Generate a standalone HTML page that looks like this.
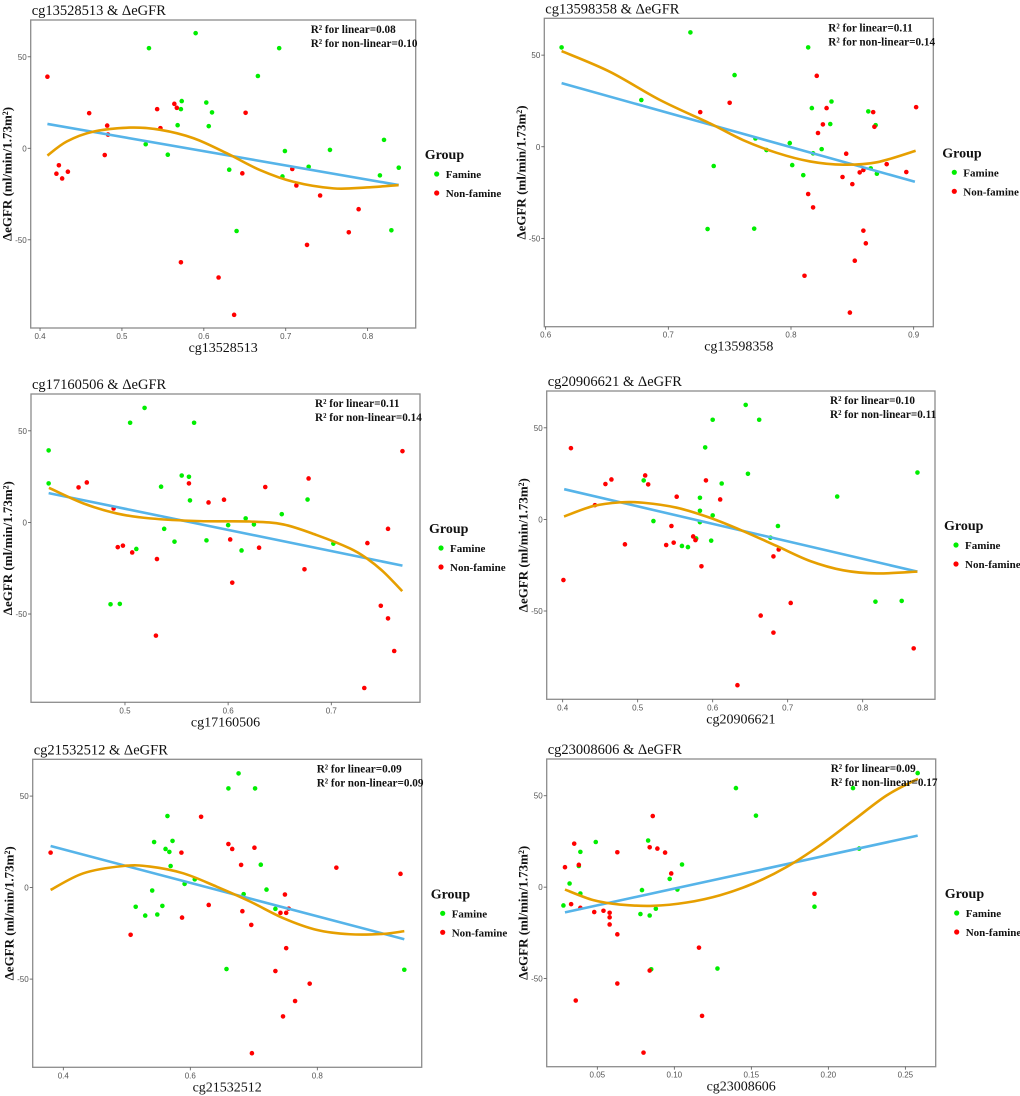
<!DOCTYPE html>
<html><head><meta charset="utf-8"><style>
html,body{margin:0;padding:0;background:#fff;}
svg{display:block;}
</style></head><body>
<svg id="fig" width="1020" height="1096" viewBox="0 0 1020 1096" xmlns="http://www.w3.org/2000/svg"></svg>
<script>
// ---------- DATA ----------
const yTicks=[50,0,-50];
const legendLabels=["Famine","Non-famine"];
// Panel 1: cg13528513
const p1FamX=[.590,.533,.692,.666,.573,.603,.572,.610,.568,.606,.529,.556,.699,.754,.820,.838,.815,.728,.696,.631,.640,.829];
const p1FamY=[62.9,54.7,54.7,39.5,25.8,25.0,21.4,19.6,12.6,12.1,2.2,-3.5,-1.5,-0.9,4.6,-10.6,-14.8,-10.1,-15.4,-11.7,-45.2,-44.8];
const p1NonX=[.409,.460,.482,.483,.479,.423,.420,.434,.427,.564,.567,.543,.547,.651,.647,.708,.713,.742,.789,.777,.726,.572,.618,.637];
const p1NonY=[39.1,19.2,12.4,7.5,-3.7,-9.3,-13.9,-12.8,-16.5,24.3,22.1,21.4,11.0,19.4,-13.7,-11.3,-20.3,-25.8,-33.3,-45.9,-52.8,-62.3,-70.6,-91.0];
const p1LinX=[.409,.838], p1LinY=[13.3,-20.1];
const p1CurX=[.409,.4326,.4651,.5099,.5468,.5875,.6279,.6686,.7093,.7581,.7988,.8378];
const p1CurY=[-4.0,3.7,9.1,11.3,10.1,5.5,-2.7,-11.9,-18.3,-21.9,-21.4,-20.1];
const p1XTicks=[0.4,0.5,0.6,0.7,0.8];
// Panel 2: cg13598358
const p2FamX=[.613,.718,.814,.754,.678,.817,.833,.832,.863,.869,.771,.780,.799,.825,.818,.801,.810,.865,.870,.737,.732,.770];
const p2FamY=[54.2,62.4,54.2,39.1,25.5,21.1,24.7,12.4,19.3,11.8,4.5,-1.8,2.0,-1.3,-3.6,-10.0,-15.5,-11.8,-14.7,-10.5,-44.9,-44.7];
const p2NonX=[.726,.750,.821,.829,.826,.822,.845,.856,.859,.842,.850,.878,.894,.902,.867,.868,.814,.818,.859,.861,.852,.811,.848];
const p2NonY=[18.9,24.0,38.7,21.1,12.2,7.5,-3.8,-14.0,-12.7,-16.5,-20.4,-9.5,-13.8,21.6,18.9,10.9,-25.8,-33.1,-45.8,-52.7,-62.2,-70.4,-90.5];
const p2LinX=[.613,.901], p2LinY=[34.7,-19.1];
const p2CurX=[.613,.6524,.6932,.734,.7611,.7883,.8155,.8427,.8698,.9016];
const p2CurY=[52.2,40.9,25.5,12.7,3.6,-3.3,-8.0,-9.8,-8.5,-2.2];
const p2XTicks=[0.6,0.7,0.8,0.9];
// Panel 3: cg17160506
const p3FamX=[.426,.426,.505,.519,.567,.555,.562,.535,.563,.538,.548,.511,.579,.600,.617,.625,.613,.652,.677,.702,.486,.495];
const p3FamY=[39.3,21.3,54.4,62.5,54.4,25.6,24.9,19.5,12.0,-3.5,-10.5,-14.5,-9.8,-1.5,2.2,-1.1,-15.3,4.5,12.5,-11.6,-44.7,-44.5];
const p3NonX=[.455,.463,.489,.493,.498,.507,.531,.530,.562,.581,.596,.602,.604,.630,.636,.678,.674,.735,.755,.769,.748,.755,.761,.732];
const p3NonY=[19.1,21.8,7.6,-13.5,-12.7,-16.4,-20.0,-61.8,21.3,10.9,12.4,-9.3,-32.9,-13.8,19.3,24.0,-25.6,-11.3,-3.5,38.9,-45.5,-52.4,-70.2,-90.4];
const p3LinX=[.426,.769], p3LinY=[16.0,-23.6];
const p3CurX=[.4263,.4596,.4919,.5242,.5727,.6212,.6535,.6858,.7181,.7343,.7504,.7688];
const p3CurY=[18.9,10.4,4.9,2.2,0.7,0.5,-1.1,-6.9,-14.2,-19.6,-26.9,-37.5];
const p3XTicks=[0.5,0.6,0.7];
// Panel 4: cg20906621
const p4FamX=[.644,.600,.662,.590,.647,.508,.612,.583,.766,.873,.583,.600,.521,.583,.578,.559,.567,.598,.687,.677,.817,.852];
const p4FamY=[62.5,54.4,54.4,39.3,24.9,21.3,19.6,11.8,12.5,25.6,4.7,2.2,-0.9,-1.5,-10.4,-14.5,-15.1,-11.6,-3.6,-10.0,-44.9,-44.5];
const p4NonX=[.411,.457,.465,.510,.514,.443,.552,.591,.610,.483,.545,.538,.548,.574,.577,.585,.681,.688,.704,.664,.681,.868,.633,.401];
const p4NonY=[38.9,19.3,21.8,24.0,19.1,7.8,12.4,21.3,10.9,-13.6,-3.6,-14.0,-12.7,-9.3,-11.3,-25.6,-20.2,-16.4,-45.6,-52.5,-61.8,-70.4,-90.5,-33.1];
const p4LinX=[.402,.873], p4LinY=[16.5,-28.5];
const p4CurX=[.4018,.4409,.4764,.5076,.552,.5964,.6409,.6853,.7298,.7742,.8187,.8729];
const p4CurY=[1.6,7.3,9.3,9.1,6.4,0.9,-6.4,-14.5,-22.7,-27.8,-29.5,-28.5];
const p4XTicks=[0.4,0.5,0.6,0.7,0.8];
// Panel 5: cg21532512
const p5FamX=[.676,.660,.702,.564,.572,.543,.561,.567,.569,.711,.591,.607,.540,.514,.529,.548,.556,.684,.720,.734,.657,.937];
const p5FamY=[62.4,54.2,54.2,39.1,25.5,24.9,21.1,19.5,11.8,12.5,2.0,4.5,-1.6,-10.5,-15.3,-14.7,-10.0,-3.6,-1.1,-11.6,-44.5,-44.9];
const p5NonX=[.380,.617,.586,.660,.666,.701,.680,.830,.931,.629,.682,.587,.506,.696,.749,.755,.751,.742,.751,.734,.788,.765,.746,.697];
const p5NonY=[19.1,38.7,19.1,23.8,21.1,21.8,12.4,10.9,7.5,-9.5,-12.9,-16.4,-25.8,-20.4,-3.8,-11.5,-13.8,-13.8,-33.1,-45.6,-52.5,-62.0,-70.4,-90.5];
const p5LinX=[.380,.937], p5LinY=[22.7,-28.2];
const p5CurX=[.38,.4315,.4945,.5365,.589,.6415,.694,.7465,.799,.8514,.9039,.937];
const p5CurY=[-1.3,7.8,11.8,11.5,7.8,0.5,-7.6,-16.7,-23.1,-25.5,-25.3,-23.8];
const p5XTicks=[0.4,0.6,0.8];
// Panel 6: cg23008606
const p6FamX=[.258,.140,.216,.153,.049,.083,.039,.105,.038,.032,.039,.097,.102,.079,.028,.078,.084,.088,.191,.220,.085,.128];
const p6FamY=[62.4,54.2,54.2,39.1,24.7,25.5,19.3,12.4,11.6,2.0,-3.5,4.5,-1.3,-1.6,-10.0,-14.7,-15.5,-11.8,-10.7,21.1,-44.9,-44.5];
const p6NonX=[.086,.035,.029,.038,.063,.084,.089,.094,.098,.033,.039,.048,.054,.058,.058,.058,.063,.063,.036,.084,.116,.118,.080,.191];
const p6NonY=[38.9,23.8,10.9,12.2,19.1,21.8,21.1,18.9,7.5,-9.3,-11.3,-13.6,-12.9,-14.0,-16.5,-20.4,-25.8,-52.7,-62.0,-45.6,-33.1,-70.4,-90.5,-3.6];
const p6LinX=[.029,.258], p6LinY=[-13.8,28.2];
const p6CurX=[.029,.0474,.0647,.0864,.108,.1297,.1513,.173,.1946,.2162,.2379,.2582];
const p6CurY=[-1.3,-7.1,-9.5,-10.2,-8.4,-4.4,2.0,11.1,22.9,36.5,50.2,59.3];
const p6XTicks=[0.05,0.10,0.15,0.20,0.25];

// ---------- LAYOUT ----------
const NS="http://www.w3.org/2000/svg";
const svg=document.getElementById('fig');
const Y_TOP=70.1, Y_BOT=-98.2;
const panels=[
 {id:'cg13528513',box:[30.7,20,385,308],xd:[.3886,.8587],fx:p1FamX,fy:p1FamY,nx:p1NonX,ny:p1NonY,lx:p1LinX,ly:p1LinY,cx:p1CurX,cy:p1CurY,xt:p1XTicks,dec:1,r1:'0.08',r2:'0.10'},
 {id:'cg13598358',box:[544.3,18.3,389,308.4],xd:[.5989,.916],fx:p2FamX,fy:p2FamY,nx:p2NonX,ny:p2NonY,lx:p2LinX,ly:p2LinY,cx:p2CurX,cy:p2CurY,xt:p2XTicks,dec:1,r1:'0.11',r2:'0.14'},
 {id:'cg17160506',box:[31,394,389,308.3],xd:[.4089,.786],fx:p3FamX,fy:p3FamY,nx:p3NonX,ny:p3NonY,lx:p3LinX,ly:p3LinY,cx:p3CurX,cy:p3CurY,xt:p3XTicks,dec:1,r1:'0.11',r2:'0.14'},
 {id:'cg20906621',box:[546.7,391,388.3,308.3],xd:[.3787,.8964],fx:p4FamX,fy:p4FamY,nx:p4NonX,ny:p4NonY,lx:p4LinX,ly:p4LinY,cx:p4CurX,cy:p4CurY,xt:p4XTicks,dec:1,r1:'0.10',r2:'0.11'},
 {id:'cg21532512',box:[32.7,759.3,389,308],xd:[.3518,.9644],fx:p5FamX,fy:p5FamY,nx:p5NonX,ny:p5NonY,lx:p5LinX,ly:p5LinY,cx:p5CurX,cy:p5CurY,xt:p5XTicks,dec:1,r1:'0.09',r2:'0.09'},
 {id:'cg23008606',box:[546.7,759,389,307.7],xd:[.01714,.2697],fx:p6FamX,fy:p6FamY,nx:p6NonX,ny:p6NonY,lx:p6LinX,ly:p6LinY,cx:p6CurX,cy:p6CurY,xt:p6XTicks,dec:2,r1:'0.09',r2:'0.17'}
];
function mk(tag,attrs,parent){const e=document.createElementNS(NS,tag);for(const k in attrs)e.setAttribute(k,attrs[k]);(parent||svg).appendChild(e);return e;}
function txt(s,attrs,parent){const e=mk('text',attrs,parent);e.textContent=s;return e;}
function smoothPath(pts){
 let d=`M${pts[0][0]},${pts[0][1]}`;
 for(let i=0;i<pts.length-1;i++){
  const p0=pts[Math.max(0,i-1)],p1=pts[i],p2=pts[i+1],p3=pts[Math.min(pts.length-1,i+2)];
  const c1=[p1[0]+(p2[0]-p0[0])/6,p1[1]+(p2[1]-p0[1])/6];
  const c2=[p2[0]-(p3[0]-p1[0])/6,p2[1]-(p3[1]-p1[1])/6];
  d+=` C${c1[0]},${c1[1]} ${c2[0]},${c2[1]} ${p2[0]},${p2[1]}`;
 }
 return d;
}
const serif='"Liberation Serif", serif', sans='"Liberation Sans", sans-serif';
panels.forEach((P,pi)=>{
 const [bx,by,bw,bh]=P.box;
 const sx=v=>bx+(v-P.xd[0])/(P.xd[1]-P.xd[0])*bw;
 const sy=v=>by+(Y_TOP-v)/(Y_TOP-Y_BOT)*bh;
 const g=mk('g',{});
 
 
 const t=txt(P.id+' & \u0394eGFR',{x:bx+1,y:by-5,'font-family':serif,'font-size':14.5,fill:'#111'},g);
 
 
 const box=mk('rect',{x:bx,y:by,width:bw,height:bh,fill:'#fff',stroke:'#8c8c8c','stroke-width':1.3},g);
 
 
 yTicks.forEach(v=>{
  const yy=sy(v);
  mk('line',{x1:bx-3,x2:bx,y1:yy,y2:yy,stroke:'#555','stroke-width':0.8},g);
  const l=txt(String(v),{x:bx-4,y:yy+3,'text-anchor':'end','font-family':sans,'font-size':8,fill:'#555'},g);
  
  
 });
 P.xt.forEach(v=>{
  const xx=sx(v);
  mk('line',{x1:xx,x2:xx,y1:by+bh,y2:by+bh+3,stroke:'#555','stroke-width':0.8},g);
  const l=txt(v.toFixed(P.dec),{x:xx,y:by+bh+11,'text-anchor':'middle','font-family':sans,'font-size':8,fill:'#555'},g);
  
  
 });
 const xt=txt(P.id,{x:bx+bw/2,y:by+bh+24,'text-anchor':'middle','font-family':serif,'font-size':14,fill:'#111'},g);
 
 
 const yt=txt('\u0394eGFR (ml/min/1.73m\u00B2)',{x:0,y:0,'text-anchor':'middle','font-family':serif,'font-size':13,'font-weight':'bold',fill:'#111',transform:`translate(${bx-19},${by+bh/2}) rotate(-90)`},g);
 
 
 P.fx.forEach((v,i)=>{
  const c=mk('circle',{cx:sx(v),cy:sy(P.fy[i]),r:2.3,fill:'#00ee00'},g);
  
  
 });
 P.nx.forEach((v,i)=>{
  const c=mk('circle',{cx:sx(v),cy:sy(P.ny[i]),r:2.3,fill:'#ff0000'},g);
  
  
 });
 const lin=mk('path',{d:'M'+P.lx.map((v,i)=>sx(v)+','+sy(P.ly[i])).join(' L'),stroke:'#56B4E9','stroke-width':2.6,fill:'none'},g);
 
 
 const cur=mk('path',{d:smoothPath(P.cx.map((v,i)=>[sx(v),sy(P.cy[i])])),stroke:'#E69F00','stroke-width':2.6,fill:'none'},g);
 
 
 const a=txt('R\u00B2 for linear='+P.r1,{x:bx+bw-105,y:by+13,'font-family':serif,'font-size':11.2,'font-weight':'bold',fill:'#111'},g);
 
 
 const b=txt('R\u00B2 for non-linear='+P.r2,{x:bx+bw-105,y:by+27,'font-family':serif,'font-size':11.2,'font-weight':'bold',fill:'#111'},g);
 
 
 const lg=mk('g',{},g);
 
 
 txt('Group',{x:bx+bw+9,y:by+139,'font-family':serif,'font-size':14,'font-weight':'bold',fill:'#111'},lg);
 const cols=['#00ee00','#ff0000'];
 legendLabels.forEach((s,i)=>{
  const yy=by+154+i*19;
  const d=mk('circle',{cx:bx+bw+21,cy:yy,r:2.6,fill:cols[i]},lg);
  
  
  const lt=txt(s,{x:bx+bw+30,y:yy+4,'font-family':serif,'font-size':11,'font-weight':'bold',fill:'#111'},lg);
  
  
 });
});
</script>
</body></html>
